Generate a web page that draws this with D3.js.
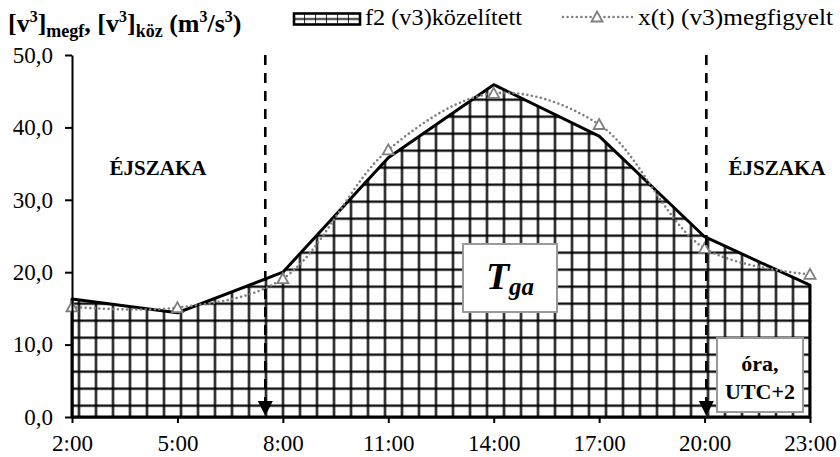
<!DOCTYPE html>
<meta charset="utf-8">
<style>
body { margin: 0; background: #fff; }
svg text { font-family: "Liberation Serif", "Times New Roman", Times, serif; }
</style>
<svg width="840" height="457"></svg>
<script src="https://cdn.jsdelivr.net/npm/d3@7/dist/d3.min.js"></script>
<script>

// hours of the day (UTC+2) and the two series
var hours = [2, 5, 8, 11, 14, 17, 20, 23];
var hourLabels = ["2:00", "5:00", "8:00", "11:00", "14:00", "17:00", "20:00", "23:00"];
var f2Kozelitett = [16.3, 14.4, 20.0, 35.8, 45.9, 38.8, 24.9, 18.2];
var xtMegfigyelt = [15.2, 15.1, 19.1, 36.9, 44.7, 40.4, 23.3, 19.7];
var yTicks = [0, 10, 20, 30, 40, 50];
// sunrise / sunset markers (hours)
var dayBounds = [7.5, 20.05];

var svg = d3.select("svg");

var x = d3.scaleLinear().domain([2, 23]).range([72, 810]);
var y = d3.scaleLinear().domain([0, 50]).range([417, 55]);

var defs = svg.append("defs");

// big grid hatch for the area
var pat = defs.append("pattern")
    .attr("id", "grid")
    .attr("patternUnits", "userSpaceOnUse")
    .attr("x", 70.5).attr("y", 397.2)
    .attr("width", 17).attr("height", 17);
pat.append("rect").attr("width", 17).attr("height", 17).attr("fill", "#fff");
pat.append("line").attr("x1", 8.5).attr("x2", 8.5).attr("y1", 0).attr("y2", 17)
    .attr("stroke", "#000").attr("stroke-width", 2.2);
pat.append("line").attr("x1", 0).attr("x2", 17).attr("y1", 8.5).attr("y2", 8.5)
    .attr("stroke", "#000").attr("stroke-width", 2.2);

// small version for the legend swatch
var pat2 = defs.append("pattern")
    .attr("id", "gridSmall")
    .attr("patternUnits", "userSpaceOnUse")
    .attr("x", 294).attr("y", 13.5)
    .attr("width", 11).attr("height", 11);
pat2.append("rect").attr("width", 11).attr("height", 11).attr("fill", "#fff");
pat2.append("line").attr("x1", 11).attr("x2", 11).attr("y1", 0).attr("y2", 11)
    .attr("stroke", "#000").attr("stroke-width", 1.6);
pat2.append("line").attr("x1", 0).attr("x2", 11).attr("y1", 5.5).attr("y2", 5.5)
    .attr("stroke", "#000").attr("stroke-width", 1.6);

var data = hours.map(function(h, i) {
  return {h: h, f2: f2Kozelitett[i], xt: xtMegfigyelt[i]};
});

// f2 area
var area = d3.area()
    .x(function(d) { return x(d.h); })
    .y0(y(0))
    .y1(function(d) { return y(d.f2); });

svg.append("path")
    .datum(data)
    .attr("d", area)
    .attr("fill", "url(#grid)")
    .attr("stroke", "#000")
    .attr("stroke-width", 3)
    .attr("stroke-linejoin", "round");

// smoothed dotted observed line
var line = d3.line()
    .x(function(d) { return x(d.h); })
    .y(function(d) { return y(d.xt); })
    .curve(d3.curveCatmullRom.alpha(0.5));

svg.append("path")
    .datum(data)
    .attr("d", line)
    .attr("fill", "none")
    .attr("stroke", "#7f7f7f")
    .attr("stroke-width", 2.6)
    .attr("stroke-linecap", "round")
    .attr("stroke-dasharray", "0,4.6");

function triangle(g, cx, cy) {
  g.append("path")
    .attr("d", "M" + cx + "," + (cy - 5.5) + "L" + (cx + 5.5) + "," + (cy + 4.5) + "L" + (cx - 5.5) + "," + (cy + 4.5) + "Z")
    .attr("fill", "#fff")
    .attr("stroke", "#7f7f7f")
    .attr("stroke-width", 1.8);
}

var marks = svg.append("g");
data.forEach(function(d) { triangle(marks, x(d.h), y(d.xt)); });

// dashed day boundaries with arrow heads
dayBounds.forEach(function(h) {
  var cx = x(h);
  svg.append("line")
    .attr("x1", cx).attr("x2", cx)
    .attr("y1", y(50)).attr("y2", y(0) - 14)
    .attr("stroke", "#000")
    .attr("stroke-width", 2.6)
    .attr("stroke-dasharray", "10,8");
  svg.append("path")
    .attr("d", "M" + (cx - 7.5) + "," + (y(0) - 16) + "L" + (cx + 7.5) + "," + (y(0) - 16) + "L" + cx + "," + (y(0) - 1) + "Z")
    .attr("fill", "#000");
});

// axes
var fmt = function(v) { return d3.format(".1f")(v).replace(".", ","); };

var yAxis = svg.append("g")
    .attr("transform", "translate(" + x(2) + ",0)")
    .call(d3.axisLeft(y).tickValues(yTicks).tickFormat(fmt).tickSize(7).tickSizeOuter(0).tickPadding(12));

var xAxis = svg.append("g")
    .attr("transform", "translate(0," + y(0) + ")")
    .call(d3.axisBottom(x).tickValues(hours)
      .tickFormat(function(d, i) { return hourLabels[i]; })
      .tickSize(6).tickSizeOuter(0).tickPadding(12));

[yAxis, xAxis].forEach(function(a) {
  a.attr("font-family", null).attr("font-size", null);
  a.selectAll("path, line").attr("stroke", "#000").attr("stroke-width", 2);
  a.selectAll("text").attr("fill", "#000").style("font-size", "23px");
});

// night labels
[[158, "ÉJSZAKA"], [777, "ÉJSZAKA"]].forEach(function(t) {
  svg.append("text")
    .attr("x", t[0]).attr("y", 175)
    .attr("text-anchor", "middle")
    .attr("font-weight", "bold")
    .attr("font-size", 21)
    .text(t[1]);
});

// T_ga box
svg.append("rect")
    .attr("x", 463).attr("y", 244).attr("width", 94).attr("height", 68)
    .attr("fill", "#fff").attr("stroke", "#999").attr("stroke-width", 2);
var tga = svg.append("text")
    .attr("x", 510).attr("y", 289)
    .attr("text-anchor", "middle")
    .attr("font-weight", "bold")
    .attr("font-style", "italic");
tga.append("tspan").attr("font-size", 38).text("T");
tga.append("tspan").attr("font-size", 25).attr("dy", 6).text("ga");

// hour unit box
svg.append("rect")
    .attr("x", 717).attr("y", 338).attr("width", 86).attr("height", 74)
    .attr("fill", "#fff").attr("stroke", "#999").attr("stroke-width", 2);
svg.append("text")
    .attr("x", 760).attr("y", 371)
    .attr("text-anchor", "middle").attr("font-weight", "bold").attr("font-size", 22)
    .text("óra,");
svg.append("text")
    .attr("x", 760).attr("y", 399)
    .attr("text-anchor", "middle").attr("font-weight", "bold").attr("font-size", 22)
    .text("UTC+2");

// axis title
var title = svg.append("text")
    .attr("x", 8).attr("y", 32)
    .attr("font-weight", "bold")
    .attr("font-size", 26);
title.append("tspan").text("[v");
title.append("tspan").attr("font-size", 16).attr("dy", -10).text("3");
title.append("tspan").attr("dy", 10).text("]");
title.append("tspan").attr("font-size", 18).attr("dy", 5).text("megf");
title.append("tspan").attr("dy", -5).text(", [v");
title.append("tspan").attr("font-size", 16).attr("dy", -10).text("3");
title.append("tspan").attr("dy", 10).text("]");
title.append("tspan").attr("font-size", 18).attr("dy", 5).text("köz");
title.append("tspan").attr("dy", -5).text(" (m");
title.append("tspan").attr("font-size", 16).attr("dy", -10).text("3");
title.append("tspan").attr("dy", 10).text("/s");
title.append("tspan").attr("font-size", 16).attr("dy", -10).text("3");
title.append("tspan").attr("dy", 10).text(")");

// legend
svg.append("rect")
    .attr("x", 294).attr("y", 13.5).attr("width", 66).attr("height", 11)
    .attr("fill", "url(#gridSmall)").attr("stroke", "#000").attr("stroke-width", 2.6);
svg.append("text")
    .attr("x", 365).attr("y", 25).attr("font-size", 23)
    .attr("textLength", 157).attr("lengthAdjust", "spacingAndGlyphs")
    .text("f2 (v3)közelített");

svg.append("line")
    .attr("x1", 563).attr("x2", 632).attr("y1", 17).attr("y2", 17)
    .attr("stroke", "#7f7f7f").attr("stroke-width", 2.6)
    .attr("stroke-linecap", "round").attr("stroke-dasharray", "0,4.6");
triangle(svg, 597, 17);
svg.append("text")
    .attr("x", 638).attr("y", 25).attr("font-size", 23)
    .attr("textLength", 195).attr("lengthAdjust", "spacingAndGlyphs")
    .text("x(t) (v3)megfigyelt");

</script>
